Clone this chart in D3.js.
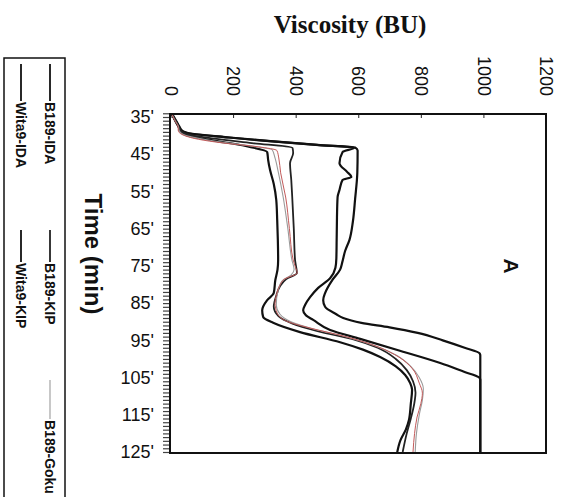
<!DOCTYPE html>
<html><head><meta charset="utf-8">
<script src="https://cdn.jsdelivr.net/npm/d3@7"></script>
<style>html,body{margin:0;padding:0;background:#fff;}svg{display:block;}</style>
</head><body>
<script>
// ---- data: [time (min), viscosity (BU)] ----
const b189IDA = [[34.2,4],[36,16],[37.5,26],[38.7,30],[40,55],[41.2,130],[42.8,240],[44.4,309],[46.5,312],[49.2,318],[53,330],[57.3,338],[62.7,341],[68,343],[73.4,344],[76,342],[78.8,335],[82.3,330],[84.2,309],[86.9,293],[88.7,296],[90.3,328],[92.8,414],[95.5,542],[97.5,615],[99.5,670],[102,720],[104.3,750],[106.5,766],[108.3,772],[112,768],[116.4,762],[119,752],[121.8,735],[125.3,724]];
const b189KIP = [[34.2,5],[36,17],[37.5,27],[38.7,33],[39.8,60],[40.8,140],[42,260],[43.3,390],[44.7,392],[47.4,382],[52,386],[56.5,389],[65,394],[73.4,398],[75.5,402],[76.9,404],[78.5,370],[80.5,350],[83,338],[86,330],[88.5,345],[90.5,390],[92.5,470],[94.9,590],[97,662],[100,720],[103,755],[106,775],[109,783],[112,779],[116,768],[120,755],[125,742]];
const b189Goku = [[34.2,4],[36,15],[37.5,25],[38.7,28],[40,50],[41.2,120],[42.5,230],[43.8,325],[46,334],[50,345],[56.5,360],[65,375],[73.4,388],[76,395],[77.5,385],[79,357],[81.5,344],[85.5,338],[88,350],[90,385],[92,460],[94,560],[96.5,655],[99,722],[102,768],[105,795],[108,808],[111,805],[115,795],[120,786],[125,782]];
const b189Red = [[34.2,4],[36,14],[37.5,24],[38.7,25],[40,45],[41,90],[42,170],[43,280],[44,340],[46,346],[50,352],[56.5,368],[65,380],[73.4,392],[75.5,400],[76.9,405],[78.5,365],[80.5,348],[83,338],[85,334],[87.7,341],[90,375],[91.7,446],[94,560],[96.8,665],[99.5,730],[102.5,772],[106.5,795],[109.2,805],[112,800],[115.6,788],[120,780],[125,775]];
const wita9IDA = [[34.2,5],[36,18],[37.5,28],[38.7,38],[39.5,70],[40.5,190],[41.5,320],[42.5,470],[43.2,590],[44,598],[50,597],[57,590],[63,583],[68,572],[71,558],[74,549],[76,542],[78.8,517],[82.3,494],[84.2,488],[86,494],[88,530],[89,552],[90.3,610],[91.5,700],[93,790],[95,870],[97,940],[98.5,988],[99,990],[125,990]];
const wita9KIP = [[34.2,5],[36,15],[37.5,25],[38.7,35],[39.5,65],[40.5,185],[41.5,315],[42.5,465],[43.2,588],[44.4,550],[47.4,540],[49.8,565],[51.1,578],[51.9,550],[54.6,540],[56.5,534],[62,532],[68,531],[73,530],[75.5,527],[78.3,510],[80.9,472],[83.4,446],[85.5,430],[86.9,424],[88.3,433],[89.5,456],[92.2,510],[94.6,606],[97.6,725],[101.1,862],[103.5,940],[104.9,985],[105.5,990],[125,990]];

const seriesNames = ["B189-IDA","B189-KIP","B189-Goku","Wita9-IDA","Wita9-KIP","B189-Goku (rep.)"];
const seriesData  = [b189IDA, b189KIP, b189Goku, wita9IDA, wita9KIP, b189Red];
const seriesColor = ["#111","#222","#9a9a9a","#111","#111","#c25a5a"];
const seriesWidth = [2.2, 1.8, 1.1, 2.2, 2.2, 1.0];
const legendNames = ["B189-IDA","B189-KIP","B189-Goku","Wita9-IDA","Wita9-KIP"];

const viscTicks = [0,200,400,600,800,1000,1200];
const timeTicks = [35,45,55,65,75,85,95,105,115,125];
const timeMinor = d3.range(34,126,1);

// ---- drawing ----
const W = 569, H = 497;
const svg = d3.select("body").append("svg").attr("width", W).attr("height", H);
svg.append("rect").attr("width", W).attr("height", H).attr("fill", "#fff");

const frame = {l:170, r:546, t:114, b:453};
const x = d3.scaleLinear().domain([0,1200]).range([170.5, 546]);
const y = d3.scaleLinear().domain([35,125]).range([117, 452]);

// minor time ticks (dense hatch on the left)
svg.append("g").attr("transform", `translate(${frame.l},0)`)
  .call(d3.axisLeft(y).tickValues(timeMinor).tickSize(7).tickFormat(""))
  .call(g => g.select(".domain").remove())
  .call(g => g.selectAll("line").attr("stroke", "#444").attr("stroke-width", 1.2));

// time labels
svg.append("g").attr("transform", `translate(${frame.l},0)`)
  .call(d3.axisLeft(y).tickValues(timeTicks).tickSize(0).tickPadding(16).tickFormat(d => d + "'"))
  .call(g => g.select(".domain").remove())
  .call(g => g.selectAll("text").attr("font-family", "Liberation Sans, Arial, sans-serif")
     .attr("font-size", 18).attr("fill", "#111"));

// top viscosity axis
svg.append("g").attr("transform", `translate(0,${frame.t})`)
  .call(d3.axisTop(x).tickValues(viscTicks).tickSize(-4).tickFormat(d3.format("d")))
  .call(g => g.select(".domain").remove())
  .call(g => g.selectAll("line").attr("stroke", "#222"))
  .call(g => g.selectAll("text")
     .attr("x", 0).attr("y", 0).attr("dy", "0.35em")
     .attr("transform", "translate(0,-18) rotate(90)")
     .style("text-anchor", "end")
     .attr("font-family", "Liberation Sans, Arial, sans-serif")
     .attr("font-size", 18).attr("fill", "#111"));

// curves
const line = d3.line().x(d => x(d[1])).y(d => y(d[0])).curve(d3.curveMonotoneY);
const order = [0,3,4,1,2,5];
svg.append("g").selectAll("path").data(order).join("path")
  .attr("d", i => line(seriesData[i]))
  .attr("fill", "none")
  .attr("stroke", i => seriesColor[i])
  .attr("stroke-width", i => seriesWidth[i])
  .attr("stroke-linejoin", "round");

// frame
svg.append("rect").attr("x", frame.l).attr("y", frame.t)
  .attr("width", frame.r - frame.l).attr("height", frame.b - frame.t)
  .attr("fill", "none").attr("stroke", "#111").attr("stroke-width", 2);

// titles
svg.append("text").attr("x", 350).attr("y", 33).attr("text-anchor", "middle")
  .attr("font-family", "Liberation Serif, Times New Roman, serif").attr("font-weight", "bold")
  .attr("font-size", 25).attr("fill", "#111").text("Viscosity (BU)");

svg.append("text").attr("transform", "translate(93,254) rotate(90)")
  .attr("text-anchor", "middle").attr("dy", "0.35em")
  .attr("font-family", "Liberation Sans, Arial, sans-serif").attr("font-weight", "bold")
  .attr("font-size", 24).attr("fill", "#111").text("Time (min)");

svg.append("text").attr("transform", "translate(511,266) rotate(90)")
  .attr("text-anchor", "middle").attr("dy", "0.35em")
  .attr("font-family", "Liberation Sans, Arial, sans-serif").attr("font-weight", "bold")
  .attr("font-size", 21).attr("fill", "#111").text("A");

// legend
svg.append("rect").attr("x", 4).attr("y", 58).attr("width", 61).attr("height", 460)
  .attr("fill", "none").attr("stroke", "#111").attr("stroke-width", 1.5);
const legendCol = [50, 50, 50, 21, 21];
const legendY0 = [64, 230, 380, 64, 230];
const legendY1 = [101, 262, 419, 101, 262];
const lg = svg.append("g").selectAll("g").data(legendNames).join("g");
lg.append("line")
  .attr("x1", (d,i) => legendCol[i]).attr("x2", (d,i) => legendCol[i])
  .attr("y1", (d,i) => legendY0[i]).attr("y2", (d,i) => legendY1[i])
  .attr("stroke", (d,i) => seriesColor[seriesNames.indexOf(d)])
  .attr("stroke-width", (d,i) => Math.min(1.8, seriesWidth[seriesNames.indexOf(d)]));
lg.append("text")
  .attr("transform", (d,i) => `translate(${legendCol[i]},${legendY1[i] + 1}) rotate(90)`)
  .attr("dy", "0.35em")
  .attr("font-family", "Liberation Sans, Arial, sans-serif").attr("font-weight", "bold")
  .attr("font-size", 14).attr("fill", "#111").text(d => d);
</script>
</body></html>
